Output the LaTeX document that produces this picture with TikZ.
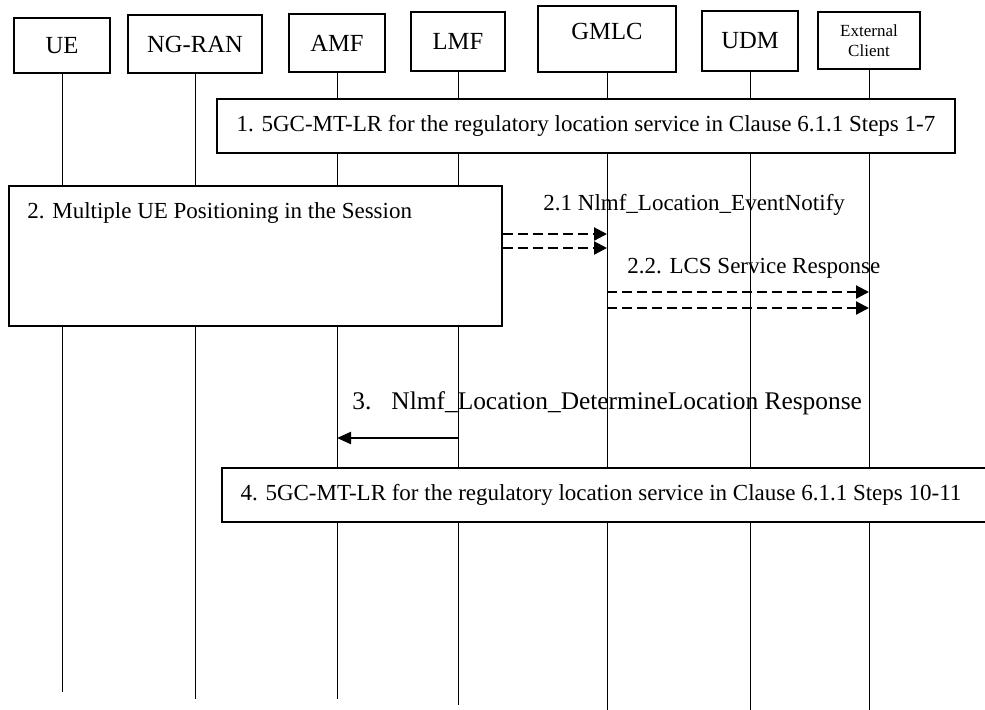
\documentclass[tikz,border=0pt]{standalone}
\usepackage{fontspec}
\setmainfont{Liberation Serif}
\usetikzlibrary{arrows.meta}

\begin{document}
\begin{tikzpicture}[x=0.5pt,y=-0.5pt,
    font=\fontsize{11.5}{13}\selectfont,
    entity/.style={draw,line width=0.85pt,inner sep=0pt,font=\fontsize{12.3}{14}\selectfont},
    procbox/.style={draw,fill=white,line width=0.85pt,inner sep=0pt},
    life/.style={line width=0.45pt},
    dmsg/.style={line width=1.1pt,dash pattern=on 5pt off 2.5pt,-{Triangle[length=6.5pt,width=6.5pt]}},
    msg/.style={line width=1.1pt,-{Triangle[length=7pt,width=6pt]}}]
    \useasboundingbox (0,0) rectangle (985,709);

    \node[entity,minimum width=48pt,minimum height=27.5pt] (ue) at (62,45.5) {UE};
    \node[entity,minimum width=67pt,minimum height=29pt] (ngran) at (195,44) {NG-RAN};
    \node[entity,minimum width=48pt,minimum height=29pt] (amf) at (337,43) {AMF};
    \node[entity,minimum width=47pt,minimum height=29.5pt] (lmf) at (458,41.5) {LMF};
    \node[entity,minimum width=69pt,minimum height=33pt,text depth=8pt] (gmlc) at (607,39) {GMLC};
    \node[entity,minimum width=48pt,minimum height=30pt] (udm) at (750,41) {UDM};
    \node[entity,minimum width=51pt,minimum height=28.5pt,align=center,
        font=\fontsize{8.5}{10}\selectfont] (ext) at (869,40.5) {External\\Client};

    \draw[life] (ue.south) -- (ue.south |- 0,692);
    \draw[life] (ngran.south) -- (ngran.south |- 0,699);
    \draw[life] (amf.south) -- (amf.south |- 0,699);
    \draw[life] (lmf.south) -- (lmf.south |- 0,705);
    \draw[life] (gmlc.south) -- (gmlc.south |- 0,712);
    \draw[life] (udm.south) -- (udm.south |- 0,712);
    \draw[life] (ext.south) -- (ext.south |- 0,712);

    \node[procbox,minimum width=369pt,minimum height=27pt] (s1) at (586,126)
        {1. 5GC-MT-LR for the regulatory location service in Clause 6.1.1 Steps 1-7};

    \node[procbox,minimum width=246.5pt,minimum height=70pt] (s2) at (255.5,256) {};
    \node[anchor=west,inner sep=0pt] (s2txt) at (27,213) {2. Multiple UE Positioning in the Session};

    \node[anchor=west,inner sep=0pt] (m21) at (543,205) {2.1 Nlmf\_Location\_EventNotify};
    \draw[dmsg] (s2.east |- 0,234) -- (gmlc.south |- 0,234);
    \draw[dmsg] (s2.east |- 0,248) -- (gmlc.south |- 0,248);

    \node[anchor=west,inner sep=0pt] (m22) at (627,268) {2.2. LCS Service Response};
    \draw[dmsg] (gmlc.south |- 0,292) -- (ext.south |- 0,292);
    \draw[dmsg] (gmlc.south |- 0,308) -- (ext.south |- 0,308);

    \node[anchor=west,inner sep=0pt,font=\fontsize{12.7}{14}\selectfont] (m3) at (352,403)
        {3.\hspace{10pt}Nlmf\_Location\_DetermineLocation Response};
    \draw[msg] (lmf.south |- 0,438) -- (amf.south |- 0,438);

    \node[procbox,minimum width=390pt,minimum height=27pt] (s4) at (612,495) {};
    \node[inner sep=0pt] (s4txt) at (601,495)
        {4. 5GC-MT-LR for the regulatory location service in Clause 6.1.1 Steps 10-11};
\end{tikzpicture}
\end{document}
